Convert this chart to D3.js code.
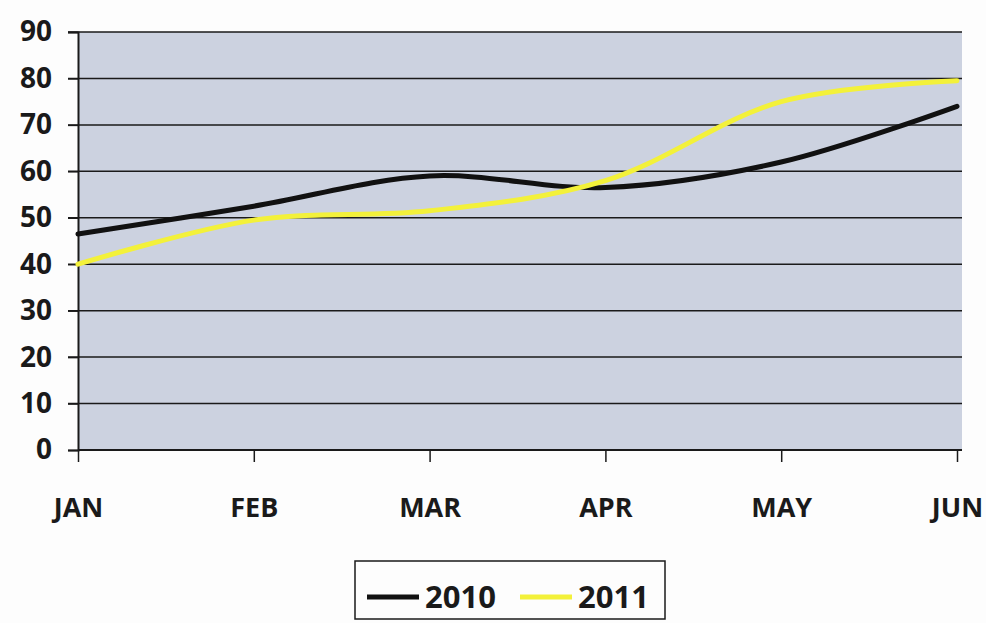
<!DOCTYPE html>
<html><head><meta charset="utf-8">
<script src="https://cdn.jsdelivr.net/npm/d3@7"></script>
<style>body{margin:0;background:#fdfdfd}svg{display:block}text{font-family:"Open Sans",sans-serif;font-weight:700;fill:#1a1a1a}</style>
</head><body>
<svg id="c" width="986" height="623"></svg>
<script>
const months = ["JAN","FEB","MAR","APR","MAY","JUN"];
const s2010 = [46.5, 52.5, 59, 56.5, 62, 74];
const s2011 = [40, 49.5, 51.5, 58, 75, 79.5];
const yTicks = [0,10,20,30,40,50,60,70,80,90];
const seriesNames = ["2010","2011"];
const colors = ["#111111","#f3f13a"];

const svg = d3.select("#c");
const L=78, R=962, T=32, B=450;
const x = d3.scalePoint().domain(months).range([L, 957]);
const y = d3.scaleLinear().domain([0,90]).range([B,T]);

svg.append("rect").attr("x",L).attr("y",T).attr("width",R-L).attr("height",B-T).attr("fill","#ccd2e0");

svg.append("g").selectAll("line").data(yTicks.filter(d=>d>0)).join("line")
  .attr("x1",L-10).attr("x2",R).attr("y1",d=>y(d)).attr("y2",d=>y(d))
  .attr("stroke","#1a1a1a").attr("stroke-width",1.5);
const ya = svg.append("g").attr("transform",`translate(${L},0)`).call(d3.axisLeft(y).tickValues(yTicks).tickSize(10).tickPadding(16));
ya.select(".domain").attr("stroke","#1a1a1a").attr("stroke-width",2);
ya.selectAll(".tick line").attr("stroke","#1a1a1a").attr("stroke-width",1.5);
ya.selectAll("text").attr("font-size",28).attr("fill","#1a1a1a").attr("font-family","Open Sans").attr("font-weight",700);

const xa = svg.append("g").attr("transform",`translate(0,${B})`).call(d3.axisBottom(x).tickSizeInner(12).tickSizeOuter(0).tickPadding(36));
xa.select(".domain").attr("stroke","#1a1a1a").attr("stroke-width",2).attr("d",`M${L},0H${R}`);
xa.selectAll(".tick line").attr("stroke","#1a1a1a").attr("stroke-width",1.5);
xa.selectAll("text").attr("font-size",27).attr("fill","#1a1a1a").attr("font-family","Open Sans").attr("font-weight",700);

const line = d3.line().x((d,i)=>x(months[i])).y(d=>y(d)).curve(d3.curveCatmullRom.alpha(0.5));
[s2010, s2011].forEach((s,k)=>{
  svg.append("path").attr("d",line(s)).attr("fill","none").attr("stroke",colors[k]).attr("stroke-width",5).attr("stroke-linecap","round");
});

const lg = svg.append("g");
lg.append("rect").attr("x",355).attr("y",561).attr("width",310).attr("height",58).attr("fill","#fdfdfd").attr("stroke","#1a1a1a").attr("stroke-width",1.5);
const lx = [367, 520];
seriesNames.forEach((n,k)=>{
  lg.append("line").attr("x1",lx[k]).attr("x2",lx[k]+52).attr("y1",597).attr("y2",597).attr("stroke",colors[k]).attr("stroke-width",5);
  lg.append("text").attr("x",lx[k]+58).attr("y",608).attr("font-size",31).text(n);
});
</script>
</body></html>
